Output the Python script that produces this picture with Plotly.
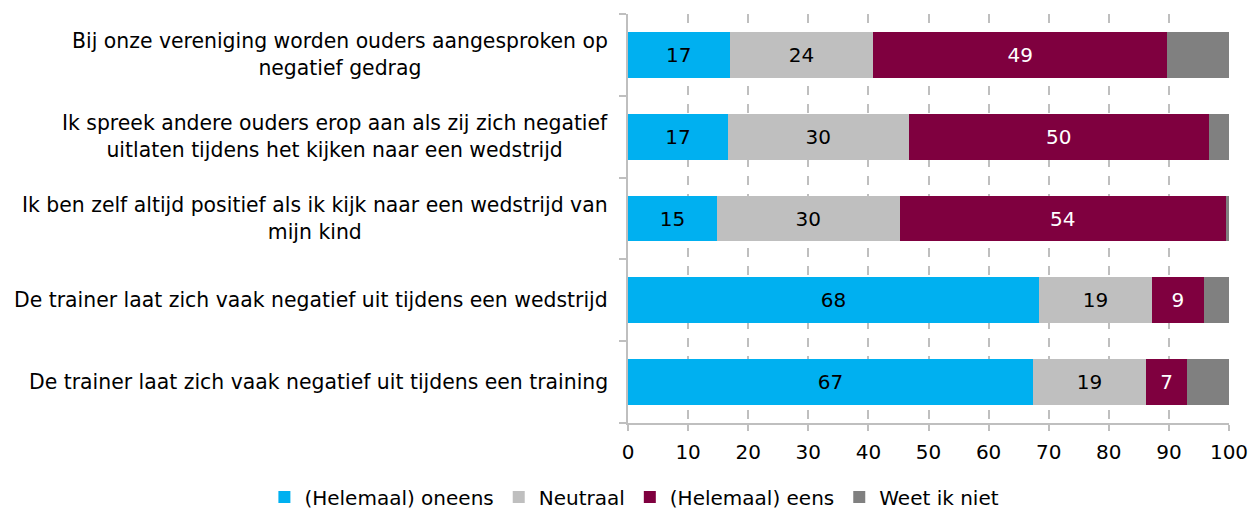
import plotly.graph_objects as go

categories = [
    "Bij onze vereniging worden ouders aangesproken op<br>negatief gedrag",
    "Ik spreek andere ouders erop aan als zij zich negatief<br>uitlaten tijdens het kijken naar een wedstrijd",
    "Ik ben zelf altijd positief als ik kijk naar een wedstrijd van<br>mijn kind",
    "De trainer laat zich vaak negatief uit tijdens een wedstrijd",
    "De trainer laat zich vaak negatief uit tijdens een training",
]
oneens = [16.9, 16.6, 14.8, 68.4, 67.4]
neutraal = [23.9, 30.1, 30.4, 18.8, 18.8]
eens = [48.9, 49.9, 54.3, 8.6, 6.8]
weet_niet = [10.3, 3.4, 0.5, 4.2, 7.0]

series_names = ["(Helemaal) oneens", "Neutraal", "(Helemaal) eens", "Weet ik niet"]
series_values = [oneens, neutraal, eens, weet_niet]
colors = ["#00B0F0", "#BFBFBF", "#7F003F", "#808080"]
text_colors = ["black", "black", "white", None]
x_ticks = list(range(0, 101, 10))

FONT = "DejaVu Sans"
FS = 20
keys = list(range(len(categories)))

fig = go.Figure()
for name, vals, col, tcol in zip(series_names, series_values, colors, text_colors):
    kw = {}
    if tcol:
        kw = dict(texttemplate="%{x:.0f}", textposition="inside",
                  insidetextanchor="middle", textangle=0,
                  textfont=dict(family=FONT, size=FS, color=tcol),
                  constraintext="none")
    fig.add_trace(go.Bar(
        y=keys, x=vals, orientation="h", name=name,
        marker=dict(color=col, line=dict(width=0)),
        hoverinfo="skip", **kw))

for k, cat in zip(keys, categories):
    fig.add_annotation(x=0, xref="paper", y=k, yref="y", text=cat,
                       xanchor="right", yanchor="middle", align="center",
                       xshift=-18, showarrow=False,
                       font=dict(family=FONT, size=20.4, color="black"))

fig.update_layout(
    barmode="stack", bargap=0.44,
    width=1258, height=508,
    margin=dict(l=620, r=37, t=6, b=93, autoexpand=False),
    plot_bgcolor="white", paper_bgcolor="white",
    font=dict(family=FONT, size=FS, color="black"),
    xaxis=dict(range=[0, 100], tickvals=x_ticks, showgrid=True,
               gridcolor="#BFBFBF", griddash="dash", gridwidth=1.5,
               showline=True, linecolor="#BFBFBF", linewidth=2,
               ticks="outside", ticklen=6, tickcolor="#BFBFBF", tickwidth=2,
               ticklabelstandoff=4,
               tickfont=dict(family=FONT, size=FS), zeroline=False),
    yaxis=dict(tickvals=keys, showticklabels=False,
               range=[4.5, -0.5],
               showline=True, linecolor="#BFBFBF", linewidth=2,
               showgrid=False, zeroline=False),
    legend=dict(orientation="h", xref="paper", yref="paper",
                x=-0.605, xanchor="left", y=-0.181, yanchor="middle",
                font=dict(family=FONT, size=FS), traceorder="normal",
                itemwidth=30, bgcolor="rgba(0,0,0,0)"),
    showlegend=True,
)

fig.update_yaxes(minor=dict(tickvals=[-0.5, 0.5, 1.5, 2.5, 3.5, 4.5],
                            ticks="outside", ticklen=7, tickcolor="#BFBFBF",
                            tickwidth=2))

fig.write_html("out.html")
